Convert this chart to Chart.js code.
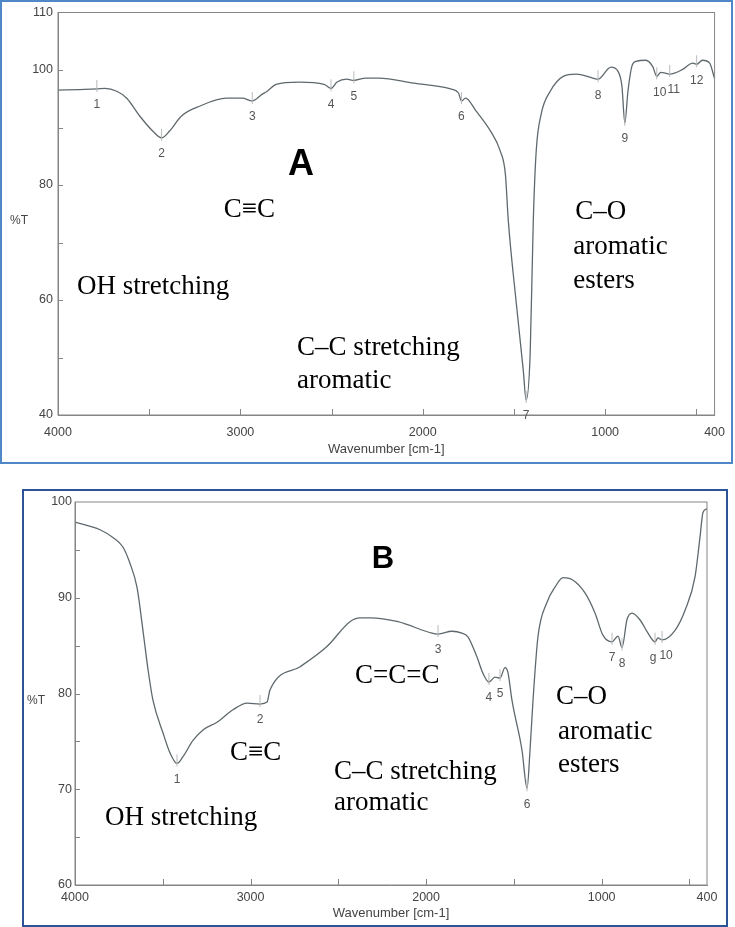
<!DOCTYPE html>
<html>
<head>
<meta charset="utf-8">
<script src="https://cdn.jsdelivr.net/npm/chart.js@4.4.1/dist/chart.umd.min.js"></script>
<style>
  body { margin: 0; background: #fff; width: 735px; height: 927px; position: relative; overflow: hidden; }
  .wrap { position: absolute; left: 0; width: 735px; }
  #wrapA { top: 0; height: 465px; }
  #wrapB { top: 480px; height: 447px; }
  .frame { position: absolute; box-sizing: border-box; pointer-events: none; }
  #frameA { left: 0; top: 0; width: 733px; height: 464px; border: 2px solid #4f87c9; }
  #frameB { left: 22px; top: 489px; width: 706px; height: 438px; border: 2px solid #2c5597; }
</style>
</head>
<body>
<div class="wrap" id="wrapA"><canvas id="chartA" width="735" height="465"></canvas></div>
<div class="wrap" id="wrapB"><canvas id="chartB" width="735" height="447"></canvas></div>
<div class="frame" id="frameA"></div>
<div class="frame" id="frameB"></div>
<script>
// spectrum A
const waveA = [4000, 3880, 3787, 3743, 3678, 3623, 3552, 3481, 3432, 3388, 3323, 3224, 3077, 2989, 2935,
  2880, 2853, 2804, 2678, 2541, 2503, 2470, 2416, 2378, 2312, 2241, 2050, 1848, 1804, 1788, 1766, 1706,
  1629, 1575, 1547, 1531, 1487, 1449, 1433, 1411, 1394, 1378, 1351, 1301, 1230, 1159, 1067, 1039, 968,
  930, 908, 892, 875, 854, 832, 777, 739, 717, 695, 646, 575, 520, 498, 466, 427, 400];
const transA = [96.5, 96.6, 96.7, 96.8, 96.3, 95.1, 92.0, 89.4, 88.2, 89.4, 92.0, 93.7, 95.1, 95.1, 94.6,
  95.8, 96.3, 97.5, 97.9, 97.5, 96.8, 97.9, 98.4, 98.2, 98.6, 98.6, 97.7, 96.7, 96.0, 94.6, 95.1, 92.8,
  89.4, 85.9, 81.9, 73.8, 59.4, 47.8, 42.6, 50.7, 73.8, 85.9, 92.3, 96.3, 98.9, 99.3, 98.6, 98.4, 100.5,
  99.8, 97.2, 90.8, 96.3, 100.6, 101.5, 101.7, 100.6, 98.9, 99.6, 99.3, 100.1, 101.2, 101.0, 101.7, 101.2, 98.5];
const peakWaveA = [3787, 3432, 2935, 2503, 2378, 1788, 1433, 1039, 892, 717, 646, 498];
const peakTransA = [96.7, 88.2, 94.6, 96.8, 98.2, 94.6, 42.6, 98.4, 90.8, 98.9, 99.3, 101.0];
const peakNamesA = ['1', '2', '3', '4', '5', '6', '7', '8', '9', '10', '11', '12'];
const yTicksA = [110, 100, 90, 80, 70, 60, 50, 40];
const yLabelsA = [110, 100, 80, 60, 40];

// spectrum B
const waveB = [4000, 3858, 3784, 3727, 3687, 3647, 3613, 3584, 3556, 3499, 3459, 3419, 3385, 3328, 3271,
  3191, 3100, 3020, 2946, 2906, 2889, 2718, 2565, 2434, 2377, 2320, 2160, 1967, 1932, 1853, 1796, 1761,
  1710, 1676, 1642, 1608, 1579, 1551, 1534, 1511, 1454, 1425, 1408, 1391, 1363, 1312, 1266, 1220, 1169,
  1095, 1038, 993, 941, 907, 884, 856, 827, 782, 736, 696, 679, 656, 582, 525, 468, 440, 423, 400];
const transB = [97.9, 97.1, 96.3, 95.3, 93.6, 91.1, 86.6, 82.5, 79.3, 75.9, 73.8, 72.7, 73.4, 75.1, 76.2,
  77.0, 78.3, 79.0, 78.9, 79.1, 80.4, 82.8, 84.9, 87.5, 87.9, 87.9, 87.5, 86.3, 86.2, 86.5, 86.3, 85.9,
  83.8, 82.1, 81.2, 81.7, 81.6, 82.7, 82.2, 79.3, 74.1, 70.1, 74.1, 79.3, 85.9, 89.5, 91.1, 92.1, 91.9,
  90.5, 88.4, 86.1, 85.4, 86.0, 84.8, 87.7, 88.4, 87.7, 86.3, 85.4, 85.8, 85.6, 86.6, 88.7, 92.2, 96.3, 98.9, 99.3];
const peakWaveB = [3419, 2946, 1932, 1642, 1579, 1425, 941, 884, 696, 656];
const peakTransB = [72.7, 78.9, 86.2, 81.2, 81.6, 70.1, 85.4, 84.8, 85.4, 85.6];
const peakNamesB = ['1', '2', '3', '4', '5', '6', '7', '8', 'g', '10'];
const yTicksB = [100, 95, 90, 85, 80, 75, 70, 65, 60];
const yLabelsB = [100, 90, 80, 70, 60];

const xTicks = [4000, 3500, 3000, 2500, 2000, 1500, 1000, 500, 400];
const xLabels = [4000, 3000, 2000, 1000, 400];

// small sideways nudges of crowded peak numbers (px)
const labelDxA = [0, 0, 0, 0, 0, 0, 0, 0, 0, 3, 4, 0];
const labelDxB = [0, 0, 0, 0, 0, 0, 0, 0, -2, 4];

// text placed in data coordinates (wavenumber, %T)
const serif = '27px "Liberation Serif", serif';
const notesA = [
  { text: 'A', wn: 2667, t: 83.4, font: 'bold 36px "Liberation Sans", Arial', align: 'center' },
  { text: 'C\u2261C', wn: 2951, t: 75.7, font: serif, align: 'center' },
  { text: 'OH stretching', wn: 3896, t: 62.2, font: serif, align: 'left' },
  { text: 'C\u2013C stretching', wn: 2689, t: 51.6, font: serif, align: 'left' },
  { text: 'aromatic', wn: 2689, t: 45.9, font: serif, align: 'left' },
  { text: 'C\u2013O', wn: 1164, t: 75.3, font: serif, align: 'left' },
  { text: 'aromatic', wn: 1175, t: 69.3, font: serif, align: 'left' },
  { text: 'esters', wn: 1175, t: 63.3, font: serif, align: 'left' }
];
const notesB = [
  { text: 'B', wn: 2246, t: 94.0, font: 'bold 31px "Liberation Sans", Arial', align: 'center' },
  { text: 'C=C=C', wn: 2405, t: 81.8, font: serif, align: 'left' },
  { text: 'C\u2261C', wn: 3117, t: 73.8, font: serif, align: 'left' },
  { text: 'OH stretching', wn: 3829, t: 67.0, font: serif, align: 'left' },
  { text: 'C\u2013C stretching', wn: 2525, t: 71.8, font: serif, align: 'left' },
  { text: 'aromatic', wn: 2525, t: 68.6, font: serif, align: 'left' },
  { text: 'C\u2013O', wn: 1260, t: 79.6, font: serif, align: 'left' },
  { text: 'aromatic', wn: 1249, t: 76.0, font: serif, align: 'left' },
  { text: 'esters', wn: 1249, t: 72.5, font: serif, align: 'left' }
];

const tickFont = { family: '"Liberation Sans", Arial', size: 12.5 };

function makeDecor(peakWave, peakTrans, peakNames, labelDx, notes) {
  return {
    id: 'decor',
    afterDraw(chart) {
      const { ctx, chartArea: a, scales: { x, y } } = chart;
      ctx.save();
      // box around plot
      ctx.strokeStyle = '#858585';
      ctx.lineWidth = 1;
      ctx.strokeRect(a.left, a.top, a.right - a.left, a.bottom - a.top);
      // inward tick marks
      ctx.beginPath();
      x.ticks.forEach(t => {
        if (t.value === x.min || t.value === x.max) return;
        const px = Math.round(x.getPixelForValue(t.value)) + 0.5;
        ctx.moveTo(px, a.bottom);
        ctx.lineTo(px, a.bottom - 6);
      });
      y.ticks.forEach(t => {
        if (t.value === y.min || t.value === y.max) return;
        const py = Math.round(y.getPixelForValue(t.value)) + 0.5;
        ctx.moveTo(a.left, py);
        ctx.lineTo(a.left + 5, py);
      });
      ctx.stroke();
      // %T label
      ctx.fillStyle = '#444';
      ctx.font = '12px "Liberation Sans", Arial';
      ctx.textAlign = 'center';
      ctx.textBaseline = 'middle';
      ctx.fillText('%T', a.left - 39, (a.top + a.bottom) / 2 + 7);
      // peak markers
      peakWave.forEach((w, i) => {
        const px = x.getPixelForValue(w);
        const py = y.getPixelForValue(peakTrans[i]);
        ctx.strokeStyle = '#b9b9b9';
        ctx.beginPath();
        ctx.moveTo(px, py - 9);
        ctx.lineTo(px, py + 3);
        ctx.stroke();
        ctx.fillStyle = '#555';
        ctx.font = '12px "Liberation Sans", Arial';
        ctx.fillText(peakNames[i], px + labelDx[i], py + 16);
      });
      // annotations
      ctx.fillStyle = '#000';
      notes.forEach(n => {
        ctx.font = n.font;
        ctx.textAlign = n.align;
        ctx.fillText(n.text, x.getPixelForValue(n.wn), y.getPixelForValue(n.t));
      });
      ctx.restore();
    }
  };
}

function buildSpectrum(el, waves, trans, yMin, yMax, yTicks, yLabels, pad, xHeight, xPad, yPad, titlePad, decor) {
  return new Chart(el, {
    type: 'line',
    data: {
      datasets: [{
        data: waves.map((w, i) => ({ x: w, y: trans[i] })),
        borderColor: '#5f696d',
        borderWidth: 1.3,
        pointRadius: 0,
        fill: false,
        cubicInterpolationMode: 'monotone'
      }]
    },
    options: {
      responsive: false,
      animation: false,
      layout: { padding: pad },
      plugins: { legend: { display: false }, tooltip: { enabled: false } },
      scales: {
        x: {
          type: 'linear',
          reverse: true,
          min: 400,
          max: 4000,
          afterBuildTicks: s => { s.ticks = xTicks.map(v => ({ value: v })); },
          afterFit: s => { s.height = xHeight; },
          grid: { display: false, drawTicks: false },
          border: { display: true, color: '#858585' },
          ticks: {
            autoSkip: false,
            maxRotation: 0,
            padding: xPad,
            color: '#444',
            font: tickFont,
            callback: v => xLabels.includes(v) ? String(v) : ''
          },
          title: {
            display: true,
            text: 'Wavenumber [cm-1]',
            color: '#444',
            font: { family: '"Liberation Sans", Arial', size: 13 },
            padding: { top: 0, bottom: titlePad }
          }
        },
        y: {
          min: yMin,
          max: yMax,
          afterBuildTicks: s => { s.ticks = yTicks.map(v => ({ value: v })); },
          afterFit: s => { s.width = 40; },
          grid: { display: false, drawTicks: false },
          border: { display: true, color: '#858585' },
          ticks: {
            padding: yPad,
            color: '#444',
            font: tickFont,
            callback: v => yLabels.includes(v) ? String(v) : ''
          }
        }
      }
    },
    plugins: [decor]
  });
}

buildSpectrum(document.getElementById('chartA'), waveA, transA, 40, 110, yTicksA, yLabelsA,
  { left: 18, right: 18, top: 11, bottom: 0 }, 50, 10, 5, 8,
  makeDecor(peakWaveA, peakTransA, peakNamesA, labelDxA, notesA));

buildSpectrum(document.getElementById('chartB'), waveB, transB, 60, 100, yTicksB, yLabelsB,
  { left: 35, right: 28, top: 22, bottom: 0 }, 42, 5, 3, 6,
  makeDecor(peakWaveB, peakTransB, peakNamesB, labelDxB, notesB));
</script>
</body>
</html>
